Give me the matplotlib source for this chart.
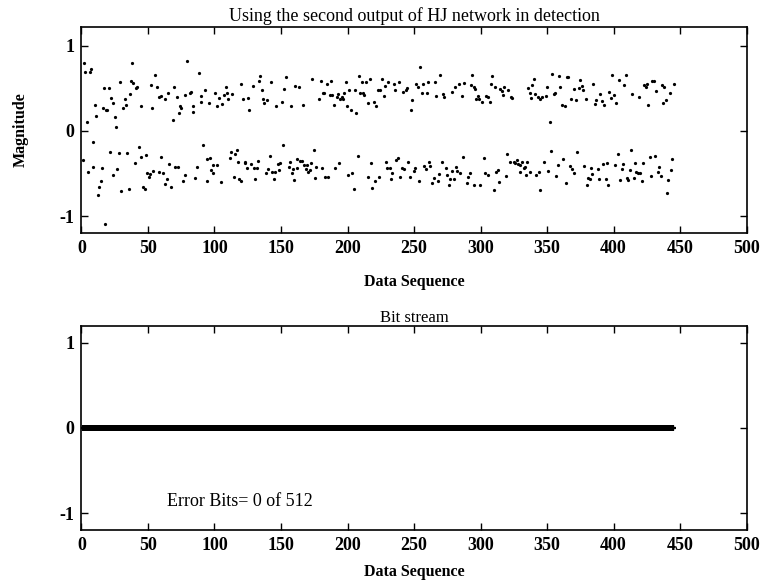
import matplotlib
matplotlib.use('Agg')
import matplotlib.pyplot as plt

plt.rcParams['font.family'] = ['Liberation Serif', 'DejaVu Serif']
plt.rcParams['axes.unicode_minus'] = False

# second output of the HJ network (upper cluster)
up_x = [1.9, 2.9, 6.4, 7.4, 3.9, 10.2, 11.2, 15.9, 16.9, 18.4, 19.4, 20.4, 22.0, 24.0, 25.0, 26.0,
        29.0, 31.5, 32.5, 33.5, 36.2, 37.0, 38.0, 39.0, 41.0, 42.0, 45.0, 52.0, 53.0, 55.6, 56.6,
        58.1, 59.6, 63.1, 65.1, 68.6, 69.6, 71.6, 73.6, 74.1, 75.1, 78.1, 79.1, 81.6, 82.6, 83.6,
        84.1, 88.2,
        89.7, 90.2, 92.7, 95.7, 100.2, 101.7, 103.3, 105.8, 106.8, 108.3, 109.3, 110.3, 113.3,
        120.3, 121.3, 125.3, 126.3, 128.8, 133.3, 134.4, 135.4, 136.4, 137.4, 139.4, 142.4, 146.4,
        150.4, 152.4, 153.9, 157.4, 160.4, 163.4, 166.9, 173.5,
        178.5, 180.0, 181.5, 182.5, 184.5, 186.5, 187.5, 188.5, 189.5, 192.0, 193.0, 194.6, 195.6,
        196.6, 197.6, 198.6, 199.6, 201.1, 202.6, 205.6, 206.6, 208.6, 209.6, 210.6, 211.6, 212.6,
        213.6, 215.6, 216.6, 219.6, 221.6, 222.6, 224.7, 225.7, 227.2, 228.2, 230.7, 234.7, 235.7,
        238.7, 241.7, 243.7, 244.7, 247.7, 248.7, 251.7, 252.7, 254.7, 255.8, 256.8, 259.8, 260.8,
        265.8, 266.8, 269.3,
        271.7, 272.7, 278.7, 280.7, 283.8, 285.8, 287.8, 292.8, 293.8, 294.8, 295.8, 296.8, 297.8,
        298.8, 300.8, 303.8, 305.8, 306.8, 307.8, 308.8, 310.8, 314.9, 315.9, 316.9, 317.9, 320.9,
        322.9, 323.9, 335.4, 336.9, 337.9, 338.9, 339.9, 340.9, 342.9, 344.9, 346.5, 349.0, 350.0,
        352.0, 354.0, 355.0, 356.0, 359.0, 359.5,
        361.0, 363.5, 365.0, 366.0, 368.0, 370.5, 372.0, 374.1, 375.1, 376.1, 377.1, 379.1, 384.6,
        386.1, 387.1, 390.1, 391.1, 392.6, 396.6, 398.1, 399.1, 400.1, 402.1, 404.1, 408.2, 409.2,
        414.2, 419.2, 423.2, 424.2, 425.2, 426.2, 429.2, 430.2, 432.2, 436.3, 437.3, 438.3, 439.3,
        442.3, 445.3]
up_y = [0.80, 0.69, 0.69, 0.73, 0.10, 0.30, 0.17, 0.27, 0.50, 0.25, 0.24, 0.50, 0.39, 0.33, 0.16, 0.04,
        0.57, 0.27, 0.38, 0.30, 0.43, 0.59, 0.80, 0.56, 0.50, 0.51, 0.29, 0.54, 0.27, 0.66, 0.51,
        0.40, 0.41, 0.38, 0.44, 0.13, 0.51, 0.40, 0.21, 0.29, 0.27, 0.42, 0.82, 0.45, 0.46, 0.29,
        0.22, 0.68,
        0.34, 0.41, 0.48, 0.33, 0.44, 0.29, 0.39, 0.32, 0.42, 0.52, 0.44, 0.37, 0.43,
        0.55, 0.37, 0.39, 0.25, 0.53, 0.59, 0.64, 0.48, 0.37, 0.33, 0.36, 0.57, 0.29,
        0.34, 0.49, 0.63, 0.29, 0.53, 0.52, 0.30, 0.61,
        0.38, 0.59, 0.45, 0.44, 0.55, 0.42, 0.59, 0.42, 0.31, 0.40, 0.43, 0.37, 0.40,
        0.38, 0.44, 0.58, 0.29, 0.48, 0.25, 0.48, 0.21, 0.65, 0.45, 0.57, 0.44, 0.42,
        0.57, 0.33, 0.61, 0.34, 0.29, 0.48, 0.48, 0.61, 0.41, 0.53, 0.57, 0.55, 0.48,
        0.57, 0.46, 0.48, 0.50, 0.24, 0.36, 0.55, 0.52, 0.75, 0.44, 0.55, 0.44, 0.57,
        0.57, 0.41, 0.66,
        0.43, 0.40, 0.46, 0.51, 0.55, 0.41, 0.56, 0.54, 0.66, 0.51, 0.49, 0.38, 0.41,
        0.38, 0.34, 0.41, 0.40, 0.34, 0.55, 0.65, 0.52, 0.49, 0.47, 0.42, 0.51, 0.48,
        0.40, 0.39, 0.50, 0.45, 0.39, 0.54, 0.61, 0.43, 0.40, 0.38, 0.40, 0.41, 0.51,
        0.10, 0.67, 0.43, 0.44, 0.65, 0.51,
        0.31, 0.29, 0.63, 0.63, 0.38, 0.49, 0.36, 0.50, 0.60, 0.53, 0.48, 0.37, 0.55,
        0.32, 0.36, 0.43, 0.35, 0.30, 0.46, 0.39, 0.66, 0.42, 0.33, 0.60, 0.54, 0.66,
        0.43, 0.40, 0.54, 0.51, 0.55, 0.30, 0.59, 0.59, 0.47, 0.54, 0.33, 0.52, 0.36,
        0.45, 0.55]

# lower cluster
lo_x = [0.9, 4.9, 8.4, 8.9, 12.4, 12.9, 14.4, 15.4, 17.4, 21.4, 23.5, 27.0, 28.0, 30.0, 34.5, 35.5,
        40.0, 43.5, 44.5, 46.5, 47.5, 48.5, 49.5, 50.5, 51.5, 54.1, 58.1, 60.1, 61.1, 62.6, 64.1,
        66.1, 67.6, 70.6, 72.6, 76.6, 77.6, 85.7, 87.2,
        91.2, 94.2, 96.7, 98.7, 97.7, 99.2, 94.7, 102.2, 104.8, 111.3, 112.3, 115.3, 116.8, 114.3,
        117.8, 118.8, 119.8, 122.8, 123.3, 124.3, 127.3, 129.8, 130.8, 131.8, 132.8, 138.4, 140.4,
        141.9, 143.4, 144.9, 145.4, 147.4, 148.4, 149.4, 151.4, 155.9, 156.9, 157.9, 158.9, 159.9,
        161.9, 162.4, 164.4, 165.9, 167.4, 168.5, 169.5, 170.5, 171.5, 172.5, 174.5, 175.5, 176.5,
        180.5, 183.0, 185.0, 190.5, 193.6, 200.6, 203.6, 204.6, 207.6, 215.1, 217.6, 218.6, 220.6,
        223.6, 228.7, 229.7, 231.7, 232.7, 233.7, 236.7, 237.7, 239.7, 240.7, 242.7, 245.7, 246.7,
        249.7, 250.7, 253.7, 257.8, 258.8, 261.3, 262.3, 263.8, 264.8, 267.8, 268.8,
        270.7, 273.7, 274.7, 276.2, 277.2, 278.2, 279.7, 281.7, 282.7, 284.8, 286.8, 289.8, 290.8,
        291.8, 294.8, 299.8, 302.3, 303.3, 305.3, 309.8, 311.8, 312.8, 313.8, 318.9, 319.9, 321.9,
        324.9, 325.9, 327.4, 328.4, 329.9, 331.4, 332.4, 333.4, 334.4, 334.9, 329.4, 337.4, 342.0,
        344.0, 345.0, 348.0, 351.0, 353.0, 357.0, 358.0,
        362.0, 364.0, 367.0, 369.0, 370.0, 372.5, 378.1, 380.1, 381.1, 382.1, 383.1, 384.1, 388.1,
        389.1, 392.1, 394.1, 395.1, 396.1, 401.1, 403.1, 405.2, 406.2, 407.2, 410.2, 411.2, 412.2,
        413.2, 415.2, 416.2, 417.2, 418.2, 420.2, 421.2, 422.2, 427.2, 428.2, 431.3, 433.3, 434.3,
        435.8, 440.3, 441.3, 443.3, 444.3]
lo_y = [-0.34, -0.48, -0.13, -0.42, -0.75, -0.66, -0.59, -0.44, -1.09, -0.25, -0.52, -0.45, -0.26, -0.71, -0.26, -0.68,
        -0.38, -0.19, -0.31, -0.66, -0.68, -0.28, -0.50, -0.54, -0.51, -0.47, -0.48, -0.31, -0.50, -0.62, -0.57,
        -0.39, -0.66, -0.43, -0.43, -0.59, -0.52, -0.55, -0.42,
        -0.17, -0.33, -0.32, -0.40, -0.46, -0.49, -0.59, -0.40, -0.60, -0.32, -0.25, -0.27, -0.23, -0.54,
        -0.37, -0.57, -0.59, -0.38, -0.37, -0.44, -0.39, -0.44, -0.57, -0.44, -0.35, -0.49, -0.45,
        -0.30, -0.48, -0.57, -0.48, -0.39, -0.46, -0.38, -0.16, -0.43, -0.36, -0.50, -0.45, -0.58,
        -0.44, -0.33, -0.35, -0.35, -0.40, -0.45, -0.40, -0.48, -0.46, -0.38, -0.23, -0.55, -0.42,
        -0.44, -0.54, -0.54, -0.44, -0.38, -0.52, -0.50, -0.68, -0.30, -0.54, -0.38, -0.67, -0.59,
        -0.54, -0.37, -0.44, -0.44, -0.56, -0.50, -0.34, -0.32, -0.54, -0.44, -0.45, -0.37, -0.54,
        -0.47, -0.44, -0.59, -0.41, -0.45, -0.37, -0.41, -0.61, -0.55, -0.59, -0.51,
        -0.36, -0.44, -0.52, -0.64, -0.57, -0.47, -0.57, -0.43, -0.47, -0.50, -0.31, -0.61, -0.54,
        -0.50, -0.63, -0.64, -0.32, -0.50, -0.52, -0.69, -0.48, -0.46, -0.60, -0.53, -0.27, -0.37,
        -0.37, -0.38, -0.34, -0.39, -0.40, -0.36, -0.44, -0.43, -0.52, -0.36, -0.48, -0.48, -0.52,
        -0.48, -0.70, -0.37, -0.47, -0.24, -0.53, -0.40,
        -0.33, -0.61, -0.41, -0.45, -0.49, -0.25, -0.41, -0.64, -0.55, -0.57, -0.44, -0.51, -0.45,
        -0.57, -0.39, -0.57, -0.38, -0.64, -0.40, -0.27, -0.58, -0.45, -0.39, -0.55, -0.58, -0.46,
        -0.22, -0.55, -0.38, -0.48, -0.50, -0.49, -0.59, -0.38, -0.31, -0.53, -0.30, -0.48, -0.43,
        -0.53, -0.73, -0.58, -0.46, -0.33]

# detected bit stream: every bit decoded to 0
n_bits = 445
bits = [0] * n_bits
bit_idx = list(range(1, n_bits + 1))
err_text = 'Error Bits= 0 of 512'

fig = plt.figure(figsize=(7.63, 5.83), dpi=100)

ax1 = fig.add_axes([0.1068, 0.6003, 0.8716, 0.3533])
ax1.plot(up_x + lo_x, up_y + lo_y, '.', color='black', markersize=2.6)
ax1.set_xlim(0, 500)
ax1.set_ylim(-1.2, 1.22)
ax1.set_yticks([-1, 0, 1])
ax1.set_xticks(range(0, 501, 50))
ax1.set_title('Using the second output of HJ network in detection', fontsize=13, pad=4)
ax1.set_xlabel('Data Sequence', fontsize=11.5, fontweight='bold', labelpad=12)
ax1.set_ylabel('Magnitude', fontsize=11.5, fontweight='bold', labelpad=22)

ax2 = fig.add_axes([0.1068, 0.0909, 0.8716, 0.35])
ax2.plot(bit_idx, bits, '+', color='black', markersize=5, markeredgewidth=1.6)
ax2.set_xlim(0, 500)
ax2.set_ylim(-1.2, 1.2)
ax2.set_yticks([-1, 0, 1])
ax2.set_xticks(range(0, 501, 50))
ax2.set_title('Bit stream', fontsize=12, pad=3)
ax2.set_xlabel('Data Sequence', fontsize=11.5, fontweight='bold', labelpad=7)
ax2.text(64, -0.87, err_text, fontsize=13, va='center', ha='left')

for ax in (ax1, ax2):
    ax.tick_params(direction='in', top=True, right=True, length=5, width=1, labelsize=13, pad=5)
    for lab in ax.get_xticklabels() + ax.get_yticklabels():
        lab.set_fontweight('bold')
    for sp in ax.spines.values():
        sp.set_linewidth(1.2)

fig.savefig('out.png', dpi=100)
